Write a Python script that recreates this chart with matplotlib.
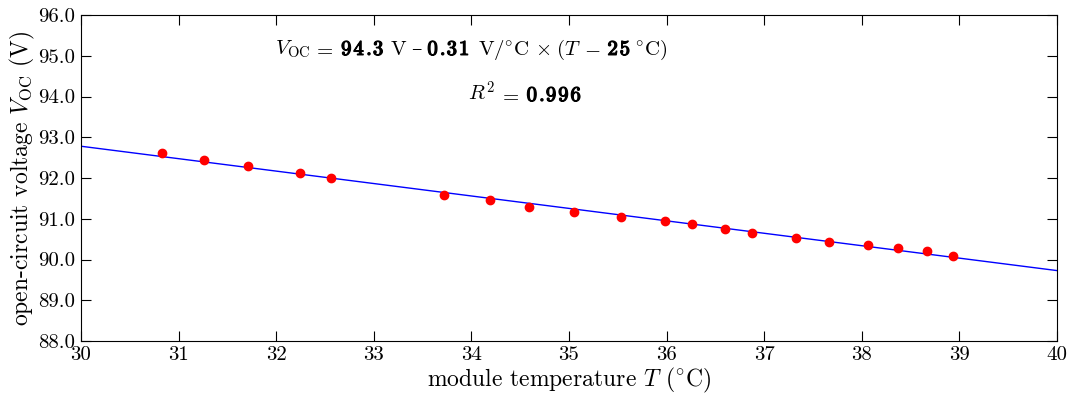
import matplotlib
matplotlib.use('Agg')
import matplotlib.pyplot as plt
import matplotlib.patheffects as pe
from matplotlib.transforms import offset_copy
import numpy as np

plt.rcParams['font.family'] = ['cmr10', 'DejaVu Serif']
plt.rcParams['mathtext.fontset'] = 'cm'
plt.rcParams['axes.formatter.use_mathtext'] = True

# Module temperature (°C) and open-circuit voltage (V)
temperature = [30.83, 31.26, 31.71, 32.24, 32.56, 33.72, 34.19, 34.59, 35.05,
               35.53, 35.98, 36.26, 36.60, 36.88, 37.33, 37.66, 38.06, 38.37,
               38.67, 38.94]
voltage = [92.61, 92.44, 92.29, 92.12, 92.00, 91.58, 91.46, 91.29, 91.17,
           91.04, 90.95, 90.86, 90.76, 90.65, 90.53, 90.44, 90.35, 90.29,
           90.21, 90.08]

x_ticks = list(range(30, 41))
y_ticks = [88.0, 89.0, 90.0, 91.0, 92.0, 93.0, 94.0, 95.0, 96.0]

# numbers shown in the fit annotation
fit_intercept = '94.3'
fit_slope = '0.31'
ref_temp = '25'
r_squared = '0.996'

fig = plt.figure(figsize=(10.73, 4.01), dpi=100)
ax = fig.add_axes([0.0755, 0.1496, 0.9095, 0.813])

# linear fit through the points
slope, intercept = np.polyfit(temperature, voltage, 1)
t_line = np.array([30, 40])
ax.plot(t_line, intercept + slope * t_line, color='blue', linewidth=1)
ax.plot(temperature, voltage, 'o', color='red', markeredgecolor='red', markersize=6)

ax.set_xlim(30, 40)
ax.set_ylim(88, 96)
ax.set_xticks(x_ticks)
ax.set_yticks(y_ticks)
ax.set_xticklabels([str(t) for t in x_ticks])
ax.set_yticklabels(['%.1f' % v for v in y_ticks])
ax.tick_params(direction='in', length=7, width=0.8, labelsize=15,
               top=True, right=True, pad=4)

ax.set_xlabel(r'module temperature $T$ ($^{\circ}$C)', fontsize=17, labelpad=1)
ax.set_ylabel(r'open-circuit voltage $V_{\mathrm{OC}}$ (V)', fontsize=17, labelpad=1)


# write a line of text made of pieces, some of them bold, centred on x
def piece_line(x, y, pieces, size=15):
    renderer = fig.canvas.get_renderer()
    # bold numbers are set one character at a time so they can be spread out
    parts = []
    for s, bold, gap, family in pieces:
        if bold:
            for i, ch in enumerate(s):
                g = gap if i == len(s) - 1 else 0.8
                parts.append((r'$\mathbf{%s}$' % ch, True, g, family))
        else:
            parts.append((s, False, gap, family))
    texts = []
    total = 0
    for s, bold, gap, family in parts:
        kw = {}
        if family:
            kw['family'] = family
        t = ax.text(x, y, s, fontsize=size, ha='left', va='baseline', **kw)
        if bold:
            t.set_path_effects([pe.withStroke(linewidth=0.9, foreground='black')])
        w = t.get_window_extent(renderer).width
        texts.append((t, total))
        total += w + gap
    total -= parts[-1][2]
    for t, off in texts:
        t.set_transform(offset_copy(ax.transData, fig=fig, x=off - total / 2,
                                    y=0, units='dots'))


piece_line(34.0, 95.02, [
    (r'$V_{\mathrm{OC}}$', False, 3, None),
    (r'$=$', False, 7, None),
    (fit_intercept, True, 6, None),
    ('V', False, 5, None),
    ('\u2013', False, 6, 'DejaVu Serif'),
    (fit_slope, True, 8, None),
    (r'V/$^{\circ}$C', False, 6, None),
    (r'$\times$', False, 6, None),
    (r'$(T$', False, 3, None),
    (r'$-$', False, 7, None),
    (ref_temp, True, 4, None),
    (r'$^{\circ}$C$)$', False, 0, None),
])
piece_line(34.55, 93.89, [
    (r'$R^2$', False, 4, None),
    (r'$=$', False, 7, None),
    (r_squared, True, 0, None),
])

fig.savefig('out.png', dpi=100)
